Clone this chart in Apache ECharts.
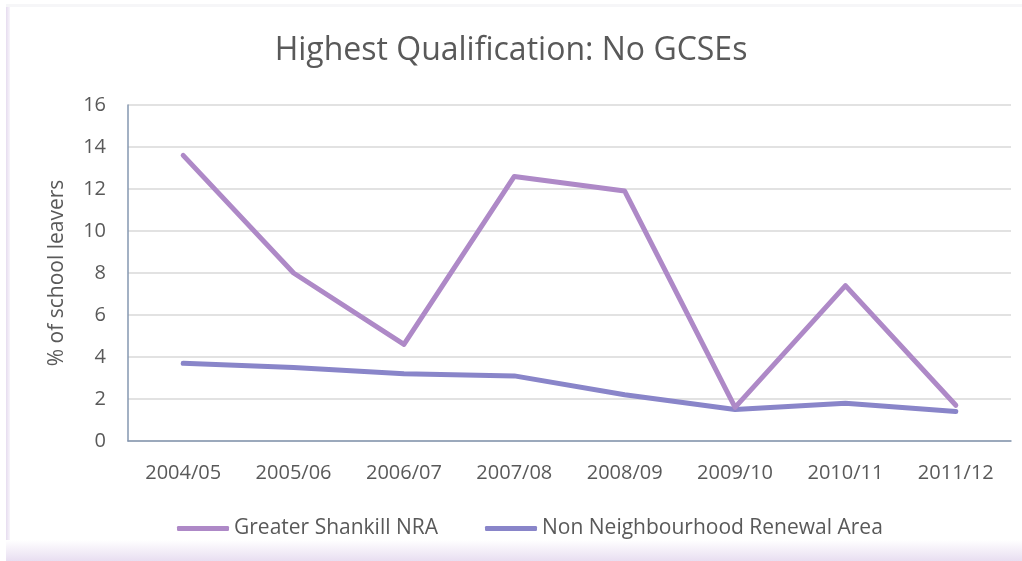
<!DOCTYPE html>
<html>
<head>
<meta charset="utf-8">
<script src="https://cdn.jsdelivr.net/npm/echarts@6/dist/echarts.min.js"></script>
<style>
  html, body { margin: 0; padding: 0; background: #ffffff; }
  #chart { width: 1022px; height: 561px; }
</style>
</head>
<body>
<div id="chart"></div>
<script>
// School years on the category axis
const years = ['2004/05', '2005/06', '2006/07', '2007/08', '2008/09', '2009/10', '2010/11', '2011/12'];
// % of school leavers with no GCSEs
const shankillNRA = [13.6, 8.0, 4.6, 12.6, 11.9, 1.6, 7.4, 1.7];
const nonNRA = [3.7, 3.5, 3.2, 3.1, 2.2, 1.5, 1.8, 1.4];
const seriesNames = ['Greater Shankill NRA', 'Non Neighbourhood Renewal Area'];

const FONT = '"Open Sans", "Noto Sans", sans-serif';
const TEXT = '#595959';

const chart = echarts.init(document.getElementById('chart'), null, { renderer: 'canvas' });

chart.setOption({
  animation: false,
  backgroundColor: '#ffffff',
  graphic: [
    // soft lavender frame along the left and bottom of the card
    {
      type: 'rect', left: 6, top: 6, z: -10, silent: true,
      shape: { width: 4, height: 555 },
      style: {
        fill: new echarts.graphic.LinearGradient(0, 0, 1, 0, [
          { offset: 0, color: '#e6dcef' }, { offset: 1, color: '#f8f5fb' }
        ])
      }
    },
    {
      type: 'rect', left: 6, top: 540, z: -10, silent: true,
      shape: { width: 1016, height: 21 },
      style: {
        fill: new echarts.graphic.LinearGradient(0, 0, 0, 1, [
          { offset: 0, color: '#ffffff' }, { offset: 1, color: '#e8def1' }
        ])
      }
    },
    {
      type: 'rect', left: 6, top: 4, z: -10, silent: true,
      shape: { width: 1016, height: 3 },
      style: { fill: '#f6f6f8' }
    }
  ],
  title: {
    text: 'Highest Qualification: No GCSEs',
    left: 'center',
    top: 30,
    textStyle: { fontFamily: FONT, fontSize: 32, fontWeight: 'normal', color: TEXT }
  },
  legend: {
    data: seriesNames,
    left: 172,
    top: 513,
    icon: 'roundRect',
    itemWidth: 52,
    itemHeight: 5,
    itemGap: 47,
    textStyle: { fontFamily: FONT, fontSize: 21, color: TEXT }
  },
  grid: { left: 128, right: 11, top: 105, bottom: 120 },
  xAxis: {
    type: 'category',
    data: years,
    boundaryGap: true,
    axisLine: { lineStyle: { color: '#8497b0', width: 1.5 } },
    axisTick: { show: false },
    axisLabel: { fontFamily: FONT, fontSize: 20, color: TEXT, margin: 22 }
  },
  yAxis: {
    type: 'value',
    min: 0,
    max: 16,
    interval: 2,
    name: '% of school leavers',
    nameLocation: 'middle',
    nameGap: 60,
    nameTextStyle: { fontFamily: FONT, fontSize: 21, color: TEXT },
    axisLine: { show: true, lineStyle: { color: '#8497b0', width: 1.5 } },
    axisTick: { show: false },
    splitLine: { lineStyle: { color: '#d9d9d9', width: 1.5 } },
    axisLabel: { fontFamily: FONT, fontSize: 20, color: TEXT, margin: 22 }
  },
  series: [
    {
      name: seriesNames[0],
      type: 'line',
      data: shankillNRA,
      symbol: 'none',
      lineStyle: { color: '#ae89c7', width: 5, cap: 'round', join: 'round' },
      itemStyle: { color: '#ae89c7' },
      z: 3
    },
    {
      name: seriesNames[1],
      type: 'line',
      data: nonNRA,
      symbol: 'none',
      lineStyle: { color: '#8985c9', width: 5, cap: 'round', join: 'round' },
      itemStyle: { color: '#8985c9' },
      z: 2
    }
  ]
});
</script>
</body>
</html>
